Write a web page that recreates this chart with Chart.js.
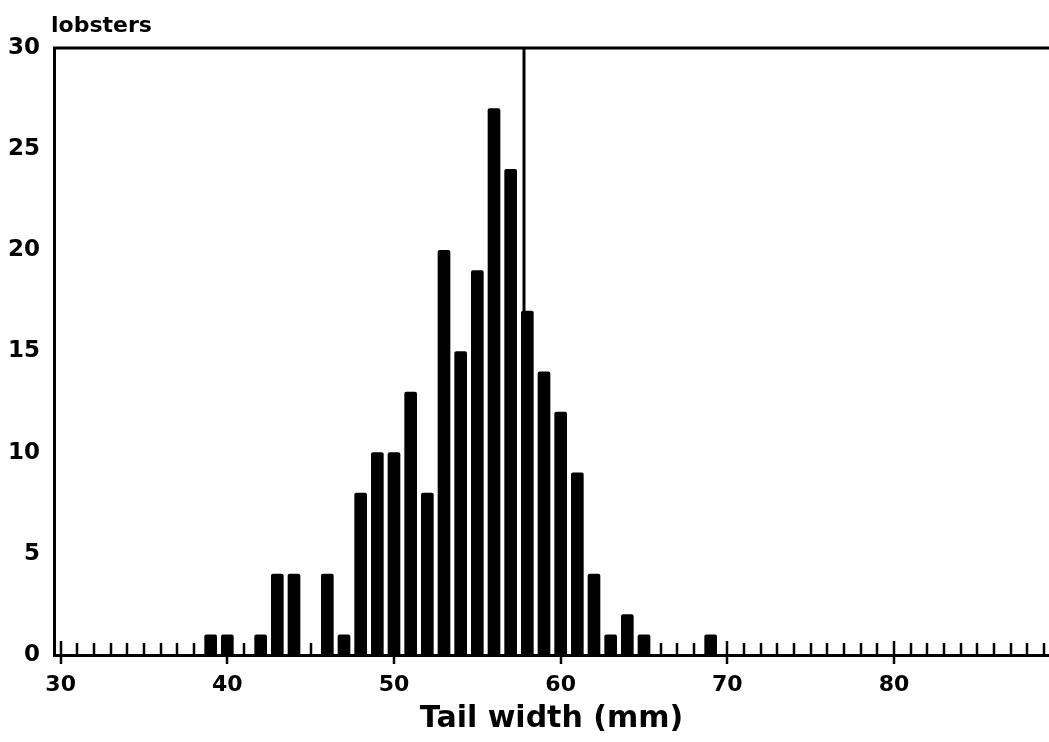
<!DOCTYPE html>
<html>
<head>
<meta charset="utf-8">
<script src="https://cdn.jsdelivr.net/npm/chart.js@4/dist/chart.umd.min.js"></script>
<style>
html,body{margin:0;padding:0;background:#fff;}
#wrap{width:1049px;height:742px;}
</style>
</head>
<body>
<div id="wrap"><canvas id="c" width="1049" height="742"></canvas></div>
<script>
// Data
const tailWidths = [39,40,42,43,44,46,47,48,49,50,51,52,53,54,55,56,57,58,59,60,61,62,63,64,65,69];
const lobsterCounts = [1,1,1,4,4,4,1,8,10,10,13,8,20,15,19,27,24,17,14,12,9,4,1,2,1,1];
const xTickLabels = [30,40,50,60,70,80];
const yTickLabels = [0,5,10,15,20,25,30];
const meanLine = [57.8];
const minorTickStart = 30, minorTickEnd = 89;

const FONT = "'DejaVu Sans', 'Liberation Sans', sans-serif";

const decor = {
  id: 'decor',
  afterDatasetsDraw(chart) {
    const {ctx, chartArea, scales} = chart;
    const xs = scales.x, ys = scales.y;
    ctx.save();
    ctx.strokeStyle = '#000';
    // top border
    ctx.lineWidth = 3;
    ctx.beginPath();
    ctx.moveTo(chartArea.left - 1, chartArea.top);
    ctx.lineTo(chartArea.right, chartArea.top);
    ctx.stroke();
    // mean line
    meanLine.forEach(v => {
      const px = xs.getPixelForValue(v);
      ctx.lineWidth = 3;
      ctx.beginPath();
      ctx.moveTo(px, chartArea.top);
      ctx.lineTo(px, ys.getPixelForValue(0));
      ctx.stroke();
    });
    // ticks
    const base = ys.getPixelForValue(0);
    ctx.lineWidth = 2.5;
    for (let v = minorTickStart; v <= minorTickEnd; v++) {
      const px = Math.round(xs.getPixelForValue(v));
      ctx.beginPath();
      if (v % 10 === 0) {
        ctx.moveTo(px, base - 14);
        ctx.lineTo(px, base + 9);
      } else {
        ctx.moveTo(px, base - 12);
        ctx.lineTo(px, base);
      }
      ctx.stroke();
    }
    // y label
    ctx.fillStyle = '#000';
    ctx.font = "bold 22px " + FONT;
    ctx.textAlign = 'left';
    ctx.textBaseline = 'alphabetic';
    ctx.fillText('lobsters', 51, 32);
    ctx.restore();
  }
};

new Chart(document.getElementById('c'), {
  type: 'bar',
  data: {
    datasets: [{
      data: tailWidths.map((x, i) => ({x: x, y: lobsterCounts[i]})),
      backgroundColor: '#000',
      borderWidth: 0,
      borderRadius: 2,
      borderSkipped: 'bottom',
      barThickness: 12
    }]
  },
  options: {
    responsive: false,
    animation: false,
    devicePixelRatio: 1,
    layout: {padding: {top: 48, right: 0, left: 0, bottom: 0}},
    plugins: {legend: {display: false}, tooltip: {enabled: false}},
    scales: {
      x: {
        type: 'linear',
        min: 29.6,
        max: 89.3,
        offset: false,
        grid: {display: false, drawTicks: false},
        border: {display: true, color: '#000', width: 3},
        afterBuildTicks(scale) { scale.ticks = xTickLabels.map(v => ({value: v})); },
        afterFit(scale) { scale.height = 87; },
        ticks: {
          color: '#000',
          font: {family: FONT, size: 22, weight: 'bold'},
          padding: 17,
          maxRotation: 0,
          autoSkip: false
        },
        title: {
          display: true,
          text: 'Tail width (mm)',
          color: '#000',
          font: {family: FONT, size: 30, weight: 'bold'},
          padding: {top: 2, bottom: 5}
        }
      },
      y: {
        min: 0,
        max: 30,
        grid: {display: false, drawTicks: false},
        border: {display: true, color: '#000', width: 3},
        afterBuildTicks(scale) { scale.ticks = yTickLabels.map(v => ({value: v})); },
        afterFit(scale) { scale.width = 54; },
        ticks: {
          color: '#000',
          font: {family: FONT, size: 23, weight: 'bold'},
          padding: 14
        }
      }
    }
  },
  plugins: [decor]
});
</script>
</body>
</html>
